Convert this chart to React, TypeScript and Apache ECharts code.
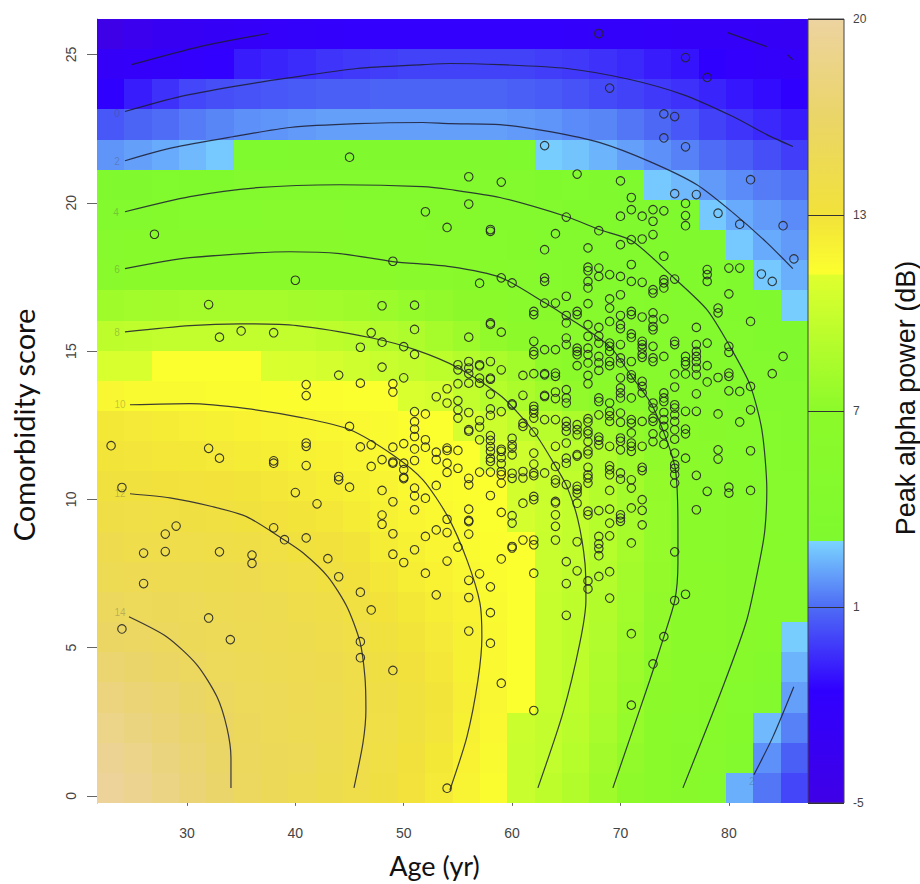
import React, { useEffect, useRef } from "react";
import * as echarts from "echarts";

const xTicks = [30, 40, 50, 60, 70, 80];
const yTicks = [0, 5, 10, 15, 20, 25];
const barTicks = ["-5", "1", "7", "13", "20"];
const xRange = [21.7, 87.3];
const yRange = [-0.24, 26.2];

// top row first, left column first (dB)
const heatRows = [
  [-4.8,-4,-3.4,-3,-2.8,-2.6,-2.4,-2.2,-2.1,-2,-2,-2,-2,-2,-2,-2,-2,-2.1,-2.2,-2.3,-2.4,-2.5,-2.6,-2.7,-2.8,-3],
  [-2.6,-2.4,-2.2,-2,-1.7,-0.9,-0.7,-0.5,-0.3,-0.2,-0.1,0,0,0,0,0,-0.1,-0.2,-0.4,-0.6,-0.9,-1.1,-1.6,-1.9,-2.2,-2.5],
  [-1.6,-0.9,-0.4,0.1,0.3,0.4,0.5,0.6,0.7,0.7,0.8,0.8,0.8,0.8,0.8,0.7,0.6,0.4,0.2,0,-0.2,-0.4,-0.7,-1,-1.3,-1.6],
  [0.5,0.8,1,1.3,1.5,1.7,1.8,1.9,2,2,2,2,2,2,2,1.9,1.8,1.6,1.5,1.2,0.9,0.5,0,-0.3,-0.6,-0.9],
  [1.8,2,2.2,2.5,2.8,3.1,3.1,3.2,3.2,3.2,3.2,3.2,3.2,3.2,3.2,3.1,2.9,2.7,2.4,2,1.7,1.4,1,0.7,0.3,-0.1],
  [3.2,3.3,3.5,3.6,3.7,3.8,3.9,3.9,4,4,4,4,4,4,3.9,3.8,3.7,3.5,3.3,3.1,2.8,2.5,1.9,1.6,1.3,1.1],
  [4,4.3,4.6,4.8,4.9,5,5.1,5.1,5.1,5,4.9,4.8,4.7,4.6,4.4,4.2,3.9,3.7,3.6,3.4,3.2,3.1,2.8,2.2,1.9,1.6],
  [5.2,5.4,5.6,5.7,5.8,5.8,5.8,5.8,5.7,5.6,5.5,5.4,5.3,5.1,4.9,4.6,4.4,4.2,3.9,3.8,3.6,3.4,3.2,2.8,2.2,1.9],
  [6.1,6.3,6.5,6.6,6.7,6.7,6.7,6.7,6.6,6.5,6.3,6.2,6,5.8,5.5,5.2,4.9,4.6,4.4,4.2,3.9,3.7,3.5,3.2,2.8,2.3],
  [8,8.1,8.2,8.3,8.3,8.3,8.3,8.2,8.1,8,7.8,7.5,7.3,7,6.6,6.2,5.9,5.6,5.3,5,4.7,4.3,4,3.7,3.3,2.9],
  [9.5,9.6,9.7,9.7,9.7,9.7,9.7,9.7,9.5,9.3,9,8.7,8.3,7.9,7.3,6.9,6.4,6,5.6,5.3,4.9,4.5,4.2,3.9,3.6,3.2],
  [10.8,10.8,11.2,11.2,11.2,11.2,10.9,10.8,10.6,10.3,10,9.8,9.4,9,8.6,8.1,7.1,6.5,6.1,5.7,5.3,5,4.6,4.2,3.8,3.4],
  [11.7,11.5,11.5,11.5,11.4,11.4,11.3,11.3,11.3,11.2,11.2,10.9,10.6,9.7,9.1,8.6,8,7.3,6.8,6.3,5.9,5.5,5.1,4.7,4.3,3.9],
  [12.6,12.5,12.4,12.2,12.1,12,11.9,11.8,11.7,11.6,11.5,11.3,11.2,10.7,10.2,9.6,9.2,8.6,8,7.3,6.8,6.3,5.8,5.2,4.8,4.4],
  [12.9,12.8,12.7,12.6,12.5,12.4,12.3,12.1,12,11.8,11.6,11.4,11.3,11.2,10.8,10.3,9.9,9.3,8.7,7.9,7.2,6.6,6,5.5,5,4.6],
  [13.4,13.3,13.2,13.1,13,12.9,12.7,12.5,12.3,12.1,11.9,11.6,11.4,11.3,11.2,10.5,10,9.6,9,8.2,7.4,6.7,6.1,5.6,5.2,4.8],
  [14,13.9,13.8,13.7,13.6,13.4,13.1,12.9,12.7,12.4,12.1,11.8,11.6,11.4,11.2,10.6,10.1,9.7,9.1,8.3,7.5,6.8,6.2,5.7,5.3,4.9],
  [14.5,14.4,14.3,14.2,14.1,14,13.8,13.4,13.2,12.9,12.4,12.1,11.8,11.5,11.3,11.2,10,9.7,9.1,8.3,7.5,6.8,6.2,5.8,5.4,5],
  [15,14.9,14.8,14.7,14.6,14.5,14.2,13.9,13.5,13.2,12.7,12.3,12,11.7,11.4,11.2,10,9.6,9,8.2,7.4,6.8,6.3,5.9,5.5,5.1],
  [15.6,15.4,15.3,15.2,15,14.9,14.7,14.4,14.1,13.5,13,12.6,12.3,12,11.5,11.2,9.9,9.5,8.9,8.1,7.3,6.7,6.3,5.9,5.5,5.1],
  [16.2,16,15.6,15.3,15.1,15,14.8,14.6,14.3,13.9,13.4,12.9,12.5,12.1,11.6,11.2,9.9,9.5,8.8,8,7.2,6.7,6.3,5.9,5.5,2.9],
  [17,16.7,16.2,15.8,15.4,15.2,15,14.8,14.5,14.2,13.7,13.2,12.7,12.1,11.6,11.2,9.9,9.5,8.7,7.9,7.1,6.5,6,5.5,4.5,2.4],
  [17.8,17.4,16.9,16.3,15.8,15.4,15.2,14.9,14.7,14.4,14,13.4,12.9,12.2,11.7,11.2,9.9,9.4,8.6,7.7,6.9,6.3,5.8,5,3.9,2],
  [18.5,18,17.4,16.8,16.1,15.5,15.2,15,14.8,14.4,13.9,13.4,12.8,12.1,11.6,10.1,9.8,9.3,8.4,7.5,6.7,6.1,5.5,4.6,2.5,1.4],
  [19.2,18.6,17.9,17.2,16.4,15.7,15.3,15.1,14.7,14.3,13.8,13.2,12.6,12,11.5,10,9.7,9.1,8.2,7.3,6.5,5.9,5.3,4.2,1.7,0.7],
  [19.6,19,18.2,17.4,16.6,15.8,15.3,15,14.6,14.2,13.7,13.1,12.5,11.9,11.4,10,9.5,8.9,8,7.1,6.3,5.7,5,2.3,1.2,0.1],
];

// colour ramp: dB and colour; repeated neighbours give the hard steps
const rampValues = [20, 16.5, 13, 11.2, 11.15, 7, 3.03, 3.02, 1, -1.55, -5];
const rampColors = ["#EDD3A0", "#EAD568", "#F2E23A", "#FCFF2E", "#DFFF2E", "#8CFA2A", "#7FFA2E", "#7AD4FF", "#4E6CF5", "#3000FF", "#3F00E6"];

const scoresByAge: Record<number, number[]> = {
  23: [11.81],
  24: [10.4, 5.63],
  26: [8.19, 7.16],
  27: [18.94],
  28: [8.83, 8.24],
  29: [9.1],
  32: [16.57, 11.72, 6.0],
  33: [15.47, 11.39, 8.23],
  34: [5.27],
  35: [15.68],
  36: [8.12, 7.84],
  38: [15.62, 11.3, 11.22, 9.04],
  39: [8.64],
  40: [17.39, 10.23],
  41: [13.87, 13.5, 11.9, 11.79, 11.14, 8.7],
  42: [9.85],
  43: [8.0],
  44: [14.19, 10.77, 10.66, 7.39],
  45: [21.54, 12.46, 10.41],
  46: [15.13, 13.92, 11.77, 6.87, 5.2, 4.66],
  47: [15.62, 11.84, 11.11, 6.27],
  48: [16.53, 15.3, 14.46, 11.34, 10.3, 9.47, 9.16],
  49: [18.03, 13.9, 13.62, 11.76, 11.26, 11.22, 9.92, 8.84, 8.15, 4.23],
  50: [15.15, 14.1, 11.88, 11.22, 11, 10.74, 10.7, 7.87],
  51: [16.55, 15.73, 14.89, 12.96, 12.62, 12.37, 12.12, 11.7, 11.31, 10.38, 10.12, 9.65, 8.3],
  52: [19.7, 12.88, 12.01, 11.76, 10.04, 8.75, 7.51],
  53: [13.46, 11.59, 11.34, 10.47, 8.97, 6.78],
  54: [19.17, 13.73, 13.25, 11.73, 11.65, 11.22, 10.91, 9.33, 8.88, 7.92, 0.26],
  55: [14.54, 14.37, 13.9, 13.33, 13.02, 12.74, 11.65, 11.05, 8.39],
  56: [20.88, 19.96, 15.47, 14.65, 14.43, 14.24, 13.92, 12.93, 12.35, 12.3, 10.71, 10.49, 9.67, 9.29, 9.25, 8.83, 7.27, 6.69, 5.56],
  57: [17.29, 14.54, 14.5, 14.09, 13.92, 12.66, 12.44, 12.01, 10.92, 7.49],
  58: [19.1, 19.04, 15.95, 15.9, 14.65, 14.09, 14.05, 13.55, 13.05, 12.83, 12.15, 11.99, 11.78, 11.62, 11.39, 11.28, 10.92, 10.13, 7.05, 6.18, 5.15],
  59: [20.7, 17.47, 15.64, 14.37, 12.96, 11.69, 11.62, 11.41, 11.2, 10.94, 10.83, 10.55, 9.56, 7.99, 3.8],
  60: [17.3, 13.22, 13.18, 12.06, 11.84, 11.73, 11.5, 10.88, 10.71, 9.45, 9.2, 8.41, 8.36],
  61: [14.18, 13.51, 12.57, 12.46, 10.94, 10.72, 9.87, 8.63],
  62: [16.34, 16.23, 15.33, 14.99, 14.88, 14.24, 13.14, 13.03, 12.91, 12.74, 12.27, 11.56, 11.19, 10.89, 10.8, 10.1, 9.99, 8.63, 8.47, 7.51, 2.88],
  63: [21.93, 18.42, 17.47, 17.35, 16.62, 15.05, 14.24, 14.2, 13.51, 13.47, 12.69, 10.89],
  64: [18.96, 16.62, 15.05, 14.26, 14.15, 13.62, 13.4, 12.69, 11.79, 11.11, 10.66, 10.55, 9.93, 9.88, 9.48, 9.09, 8.63],
  65: [19.52, 16.85, 16.2, 15.95, 15.44, 15.22, 13.7, 13.42, 13.25, 12.63, 12.46, 12.3, 11.9, 11.39, 11.22, 10.5, 7.9, 7.16, 6.09],
  66: [20.97, 16.34, 16.23, 15.1, 14.99, 14.88, 14.51, 12.52, 12.35, 12.18, 11.51, 11.46, 10.44, 10.33, 10.21, 9.87, 8.57, 7.59],
  67: [18.48, 17.83, 17.71, 17.35, 17.13, 16.6, 15.89, 15.5, 15.1, 14.88, 14.6, 14.18, 13.9, 12.72, 12.61, 12.31, 12.21, 11.95, 11.64, 11.53, 11.08, 10.83, 10.72, 10.55, 9.6, 9.48, 7.25, 6.98],
  68: [25.71, 19.06, 17.8, 17.52, 15.8, 15.5, 15.27, 14.82, 14.6, 14.35, 13.42, 13.3, 12.85, 12.1, 11.99, 11.84, 9.62, 8.75, 8.5, 8.34, 8.1, 7.4],
  69: [23.87, 17.58, 16.76, 16.45, 16.0, 15.27, 15.16, 14.99, 14.65, 14.51, 13.25, 12.97, 12.82, 12.63, 11.79, 11.13, 11.0, 10.83, 10.3, 9.67, 9.2, 8.77, 7.56, 6.67],
  70: [20.74, 19.55, 18.59, 17.52, 16.9, 16.2, 15.89, 15.76, 15.22, 14.77, 14.6, 14.1, 13.76, 13.59, 13.42, 12.91, 12.6, 12.07, 11.96, 11.67, 10.89, 10.68, 9.48, 9.37, 9.26],
  71: [20.18, 19.77, 18.76, 17.92, 17.35, 16.34, 16.23, 15.58, 15.46, 14.65, 14.2, 14.09, 13.42, 12.69, 12.57, 12.24, 11.9, 11.79, 11.62, 10.66, 10.38, 9.71, 8.53, 5.47, 3.06],
  72: [19.55, 18.78, 17.32, 16.15, 15.33, 15.22, 15.1, 14.9, 14.79, 13.98, 13.81, 13.59, 12.63, 11.79, 11.08, 10.97, 9.99, 9.63, 9.14],
  73: [19.77, 19.38, 18.93, 17.07, 16.96, 16.29, 16.06, 15.83, 15.72, 15.16, 14.77, 14.65, 13.25, 13.08, 12.74, 12.63, 12.21, 11.95, 4.45],
  74: [23, 22.19, 19.73, 18.2, 17.41, 17.3, 17.13, 16.09, 14.82, 13.59, 13.42, 13.3, 12.93, 12.69, 12.46, 12.18, 11.86, 5.37],
  75: [22.91, 20.31, 17.43, 15.33, 15.22, 14.23, 13.79, 13.19, 13.08, 12.85, 12.63, 12.35, 12.03, 11.56, 11.17, 11.05, 10.83, 10.55, 8.23, 6.59],
  76: [24.9, 21.89, 19.98, 19.57, 19.23, 14.82, 14.65, 14.54, 14.23, 12.97, 12.37, 12.21, 11.39, 6.8],
  77: [20.28, 15.8, 15.22, 14.99, 14.82, 14.65, 14.43, 14.2, 13.56, 12.97, 10.81, 9.65],
  78: [24.23, 17.75, 17.58, 17.35, 15.27, 14.51, 13.96, 10.27],
  79: [19.65, 16.45, 16.29, 14.11, 12.88, 11.67, 11.36],
  80: [17.8, 16.93, 15.16, 14.96, 14.26, 14.15, 13.66, 10.41, 10.21],
  81: [19.28, 17.8, 13.64, 12.61],
  82: [20.78, 16.0, 13.81, 13.02, 11.64, 10.3],
  83: [17.6],
  84: [17.35, 14.24],
  85: [19.23, 14.82],
  86: [18.11],
};

const contourMinus2a = [[24.9, 24.66], [31.2, 25.27], [37.5, 25.71]];
const contourMinus2b = [[79.9, 25.74], [83.5, 25.27]];
const contourMinus2c = [[85.4, 25.0], [85.9, 24.83]];
const contour0 = [[24.28, 23.08], [29.35, 23.58], [34.24, 23.92], [39.5, 24.22], [45.68, 24.53], [51.77, 24.66], [54.26, 24.7], [58.87, 24.66], [65.06, 24.53], [70.87, 24.16], [75.76, 23.65], [80.37, 22.91], [83.5, 22.3], [85.9, 21.9]];
const contour2 = [[24.28, 21.42], [28.71, 21.86], [34.24, 22.23], [39.5, 22.54], [45.68, 22.67], [51.77, 22.71], [54.26, 22.67], [58.87, 22.64], [63.49, 22.4], [68.1, 22.03], [72.71, 21.39], [77.05, 20.61], [80.37, 19.67], [83.5, 18.66], [85.9, 17.78]];
const contour2b = [[82.31, 0.71], [84.06, 1.99], [85.99, 3.68]];
const contour4 = [[24.28, 19.7], [30.28, 20.21], [36.46, 20.51], [44.11, 20.61], [51.77, 20.55], [54.26, 20.45], [58.87, 20.18], [65.06, 19.53], [68.01, 19.1], [71.05, 18.72], [75.02, 17.44], [77.97, 16.4], [80, 15.22], [81.94, 13.87], [83.04, 12.35], [83.5, 10.32], [83.32, 8.97], [82.86, 7.96], [81.66, 5.94], [79.45, 3.68], [75.76, 0.27]];
const contour6 = [[24.28, 17.78], [30.28, 18.15], [39.5, 18.35], [44.11, 18.29], [49, 18.02], [54.26, 17.85], [58.97, 17.48], [63.03, 16.63], [65.06, 16.16], [69.02, 15.15], [71.05, 14.14], [72.99, 13.12], [75.02, 11.1], [75.3, 8.97], [75.3, 7.86], [75.02, 6.61], [73.91, 5.26], [72.71, 3.91], [69.3, 0.27]];
const contour8 = [[24.28, 15.65], [30.28, 15.86], [34.89, 15.92], [40.15, 15.86], [46.97, 15.45], [51.03, 15.05], [55, 14.44], [59.06, 13.46], [62.01, 12.28], [64.04, 11.1], [65.06, 10.43], [66.07, 9.31], [66.72, 7.86], [66.81, 6.61], [66.25, 5.16], [64.69, 2.8], [62.38, 0.27]];
const contour10 = [[24.74, 13.19], [30.28, 13.23], [35.54, 13.06], [40.7, 12.75], [45.04, 12.35], [49, 11.5], [51.77, 10.66], [54.08, 9.41], [55.83, 7.96], [57.03, 6.51], [57.21, 5.36], [56.85, 3.91], [55.83, 1.99], [54.26, 0.2]];
const contour12 = [[24.74, 10.19], [28.43, 10.05], [32.4, 9.75], [35.54, 9.41], [38.95, 8.64], [40.7, 8.2], [43.01, 7.39], [44.76, 6.38], [45.96, 5.2], [46.42, 4.01], [46.51, 2.9], [46.24, 1.79], [45.41, 0.27]];
const contour14 = [[24.65, 6.04], [28.15, 5.36], [30.92, 4.42], [32.77, 3.34], [33.69, 2.29], [34.06, 1.28], [34.06, 0.27]];
const contourLines = [contourMinus2a, contourMinus2b, contourMinus2c, contour0, contour2, contour2b, contour4, contour6, contour8, contour10, contour12, contour14];

const contourLabels = [
  [23.54, 23.01, "0"], [23.54, 21.39, "2"], [23.45, 19.67, "4"], [23.54, 17.75, "6"], [23.54, 15.62, "8"],
  [23.82, 13.19, "10"], [23.82, 10.19, "12"], [23.82, 6.17, "14"], [82.12, 0.47, "2"],
];

const hexToRgb = (h: string) => [1, 3, 5].map((i) => parseInt(h.slice(i, i + 2), 16));
function colorFor(v: number) {
  if (v >= rampValues[0]) return rampColors[0];
  for (let i = 0; i < rampValues.length - 1; i++) {
    const a = rampValues[i], b = rampValues[i + 1];
    if (v <= a && v >= b) {
      const t = (a - v) / (a - b);
      const c0 = hexToRgb(rampColors[i]), c1 = hexToRgb(rampColors[i + 1]);
      const c = c0.map((x, k) => Math.round(x + (c1[k] - x) * t));
      return `rgb(${c[0]},${c[1]},${c[2]})`;
    }
  }
  return rampColors[rampColors.length - 1];
}
// position along the evenly spaced colour bar (0 at the top)
const barKnots = [20, 13, 7, 1, -5];
function barOffset(v: number) {
  for (let i = 0; i < 4; i++) {
    if (v <= barKnots[i] && v >= barKnots[i + 1]) return (i + (barKnots[i] - v) / (barKnots[i] - barKnots[i + 1])) / 4;
  }
  return 1;
}

export default function App() {
  const ref = useRef<HTMLDivElement>(null);
  useEffect(() => {
    document.body.style.margin = "0";
    const chart = echarts.init(ref.current!, undefined, { renderer: "svg" });
    const nRows = heatRows.length, nCols = heatRows[0].length;
    const cw = (xRange[1] - xRange[0]) / nCols, ch = (yRange[1] - yRange[0]) / nRows;
    const cells: number[][] = [];
    heatRows.forEach((row, r) => row.forEach((v, c) => {
      cells.push([xRange[0] + c * cw, yRange[1] - r * ch, v]);
    }));
    const points: number[][] = [];
    Object.keys(scoresByAge).forEach((k) => scoresByAge[+k].forEach((s) => points.push([+k, s])));
    const axisGrey = "#8a8a8a";
    const numFont = "'Liberation Sans', Arial, sans-serif";
    chart.setOption({
      animation: false,
      backgroundColor: "#ffffff",
      grid: [
        { left: 97, top: 19, width: 711, height: 784, outerBoundsMode: "none" },
        { left: 808, top: 19, width: 36, height: 784, outerBoundsMode: "none" },
      ],
      xAxis: [
        {
          type: "value", gridIndex: 0, min: xRange[0], max: xRange[1],
          name: "Age (yr)", nameLocation: "middle", nameGap: 49,
          nameTextStyle: { fontFamily: "Lato, sans-serif", fontSize: 27, color: "#111", padding: [0, 36, 0, 0] },
          splitLine: { show: false },
          axisLine: { show: true, lineStyle: { color: axisGrey } },
          axisTick: { show: true, length: 10, customValues: xTicks, lineStyle: { color: "#666" } },
          axisLabel: { show: true, customValues: xTicks, margin: 23, fontSize: 14, color: "#444", fontFamily: numFont },
        },
        { type: "value", gridIndex: 1, min: 0, max: 1, show: false },
      ],
      yAxis: [
        {
          type: "value", gridIndex: 0, min: yRange[0], max: yRange[1],
          name: "Comorbidity score", nameLocation: "middle", nameGap: 59,
          nameTextStyle: { fontFamily: "Lato, sans-serif", fontSize: 29, color: "#111", padding: [0, 28, 0, 0] },
          splitLine: { show: false },
          axisLine: { show: true, lineStyle: { color: axisGrey } },
          axisTick: { show: true, length: 10, customValues: yTicks, lineStyle: { color: "#666" } },
          axisLabel: { show: true, customValues: yTicks, rotate: 90, margin: 19, fontSize: 14, color: "#444", fontFamily: numFont },
        },
        {
          type: "value", gridIndex: 1, min: 0, max: 4, interval: 1, position: "right", z: 6,
          name: "Peak alpha power (dB)", nameLocation: "middle", nameGap: 48, nameRotate: 90,
          nameTextStyle: { fontFamily: numFont, fontSize: 27, color: "#111", padding: [0, 0, 0, 26] },
          splitLine: { show: true, lineStyle: { color: "#333", width: 1 } },
          axisLine: { show: false },
          axisTick: { show: false },
          axisLabel: { margin: 9, fontSize: 12, color: "#444", fontFamily: numFont, formatter: (v: number) => barTicks[Math.round(v)] },
        },
      ],
      series: [
        {
          type: "custom", xAxisIndex: 0, yAxisIndex: 0, data: cells, silent: true, z: 1,
          encode: { x: 0, y: 1 },
          renderItem: (_p: any, api: any) => {
            const x0 = api.value(0), y0 = api.value(1);
            const a = api.coord([x0, y0]), b = api.coord([x0 + cw, y0 - ch]);
            const left = Math.round(a[0]), top = Math.round(a[1]);
            return {
              type: "rect",
              shape: { x: left, y: top, width: Math.round(b[0]) - left, height: Math.round(b[1]) - top },
              style: { fill: colorFor(api.value(2)) },
            };
          },
        },
        ...contourLines.map((line) => ({
          type: "line", xAxisIndex: 0, yAxisIndex: 0, data: line, smooth: 0.25, showSymbol: false, silent: true, z: 3,
          lineStyle: { color: "#1c1c30", width: 1.2, opacity: 0.85 },
        })),
        {
          type: "scatter", xAxisIndex: 0, yAxisIndex: 0, data: points, symbol: "circle", symbolSize: 8.5, silent: true, z: 4,
          itemStyle: { color: "rgba(0,0,0,0)", borderColor: "#262626", borderWidth: 1.1, opacity: 0.9 },
        },
        {
          type: "scatter", xAxisIndex: 0, yAxisIndex: 0, data: contourLabels, symbolSize: 0, silent: true, z: 4,
          label: {
            show: true, position: "inside", fontSize: 10, color: "rgba(70,70,70,0.38)", fontFamily: numFont,
            formatter: (p: any) => p.value[2],
          },
        },
        {
          type: "custom", xAxisIndex: 1, yAxisIndex: 1, data: [[0, 4]], silent: true, z: 1,
          encode: { x: 0, y: 1 },
          renderItem: (_p: any, api: any) => {
            const a = api.coord([0, 4]), b = api.coord([1, 0]);
            const stops = rampValues.map((v, i) => ({ offset: barOffset(v), color: rampColors[i] }));
            return {
              type: "rect",
              shape: { x: a[0], y: a[1], width: b[0] - a[0], height: b[1] - a[1] },
              style: { fill: new echarts.graphic.LinearGradient(0, 0, 0, 1, stops), stroke: "#444", lineWidth: 1 },
            };
          },
        },
      ],
    });
    return () => chart.dispose();
  }, []);
  return <div ref={ref} style={{ position: "absolute", left: 0, top: 0, width: 920, height: 884 }} />;
}
